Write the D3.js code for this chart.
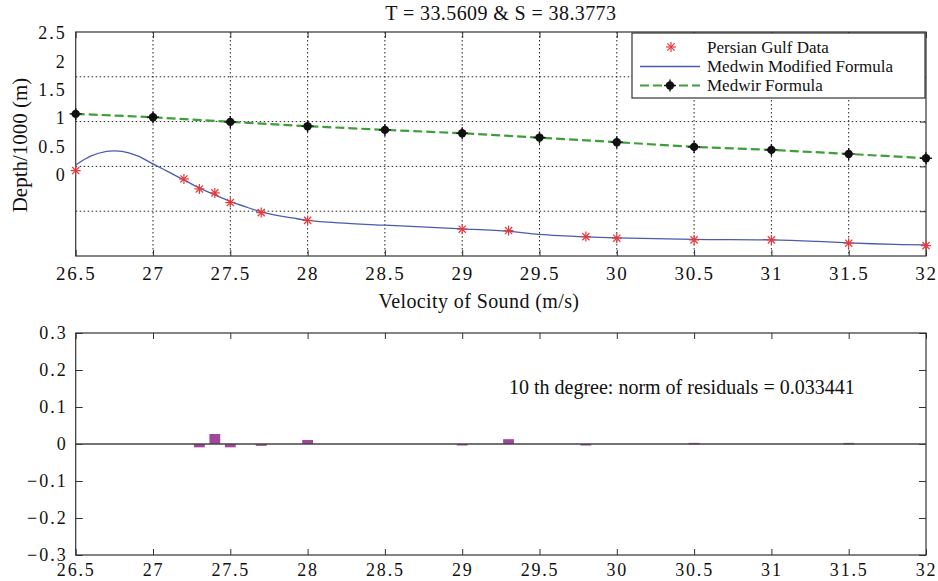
<!DOCTYPE html>
<html>
<head>
<meta charset="utf-8">
<script src="https://cdn.jsdelivr.net/npm/d3@7"></script>
<style>
  html, body { margin: 0; padding: 0; background: #fff; }
  svg { display: block; }
  svg text { font-family: "Liberation Serif", "Tinos", "Times New Roman", Times, "DejaVu Serif", serif !important; fill: #111; }
</style>
</head>
<body>
<svg id="chart" width="938" height="581"></svg>
<script>
// Sound velocity vs. depth, Persian Gulf (upper panel) and fit residuals (lower panel)
const velocityTicks = [26.5, 27, 27.5, 28, 28.5, 29, 29.5, 30, 30.5, 31, 31.5, 32];
const depthTicks = [0, 0.5, 1, 1.5, 2, 2.5];
const residualTicks = [-0.3, -0.2, -0.1, 0, 0.1, 0.2, 0.3];

// Persian Gulf measurements
const obsVelocity = [26.5, 27.2, 27.3, 27.4, 27.5, 27.7, 28, 29, 29.3, 29.8, 30, 30.5, 31, 31.5, 32];
const obsDepth = [0.076, -0.071, -0.247, -0.317, -0.488, -0.665, -0.802, -0.957, -0.982, -1.088, -1.116, -1.146, -1.146, -1.204, -1.247];

// Medwin modified formula (10th degree fit)
const fitVelocity = [26.5, 26.6, 26.7, 26.75, 26.8, 26.9, 27.0, 27.1, 27.2, 27.3, 27.4, 27.5, 27.6, 27.7, 27.8, 27.9, 28.0, 28.2, 28.5, 28.8, 29.0, 29.3, 29.5, 29.8, 30.0, 30.5, 31.0, 31.3, 31.5, 31.8, 32.0];
const fitDepth = [0.176, 0.335, 0.414, 0.423, 0.414, 0.335, 0.194, 0.053, -0.088, -0.229, -0.353, -0.467, -0.564, -0.652, -0.714, -0.758, -0.802, -0.846, -0.887, -0.926, -0.952, -0.996, -1.049, -1.093, -1.111, -1.137, -1.146, -1.173, -1.199, -1.226, -1.234];

// Medwin formula
const medwinVelocity = [26.5, 27, 27.5, 28, 28.5, 29, 29.5, 30, 30.5, 31, 31.5, 32];
const medwinDepth = [1.076, 1.017, 0.935, 0.859, 0.794, 0.735, 0.658, 0.577, 0.494, 0.441, 0.370, 0.294];

// Residuals of the fit
const residVelocity = [27.3, 27.4, 27.5, 27.7, 28, 29, 29.3, 29.8, 30.5, 31.5];
const residValue = [-0.009, 0.027, -0.009, -0.005, 0.011, -0.003, 0.013, -0.004, 0.003, 0.003];

const titleText = "T = 33.5609 & S = 38.3773";
const legendLabels = ["Persian Gulf Data", "Medwin Modified Formula", "Medwir Formula"];
const residNote = "10 th degree: norm of residuals = 0.033441";

const FONT = '"Liberation Serif", Tinos, "Times New Roman", Times, "DejaVu Serif", serif';

const svg = d3.select("#chart").attr("font-family", FONT);
const left = 75.7, right = 926;
const top1 = 32, bottom1 = 256;
const top2 = 333, bottom2 = 555;

const x = d3.scaleLinear().domain([26.5, 32]).range([left, right]);
const yDepth = d3.scaleLinear().domain([-1.43, 2.52]).range([bottom1, top1]);
const yGrid = d3.scaleLinear().domain([0, 5]).range([bottom1, top1]);
const yRes = d3.scaleLinear().domain([-0.3, 0.3]).range([bottom2, top2]);

const axisColor = "#333";
const fmt = d => (d < 0 ? "\u2212" + Math.abs(d) : String(d));

function styleLabels(s, size, spacing) {
  s.attr("font-family", FONT);
  s.selectAll("text")
    .attr("font-size", size).attr("letter-spacing", spacing + "px")
    .attr("font-family", FONT).attr("fill", "#111");
}

// ---------- upper panel ----------
const g1 = svg.append("g");

// vertical grid
g1.append("g").selectAll("line").data(velocityTicks.slice(1, -1)).join("line")
  .attr("x1", d => x(d)).attr("x2", d => x(d))
  .attr("y1", top1).attr("y2", bottom1)
  .attr("stroke", "#222").attr("stroke-width", 1).attr("stroke-dasharray", "1.5,2.5");

// horizontal grid
g1.append("g").selectAll("line").data([1, 2, 3, 4]).join("line")
  .attr("x1", left).attr("x2", right)
  .attr("y1", d => yGrid(d)).attr("y2", d => yGrid(d))
  .attr("stroke", "#222").attr("stroke-width", 1).attr("stroke-dasharray", "1.5,2.5");

// tick marks
g1.append("g").attr("transform", `translate(0,${bottom1})`)
  .call(d3.axisBottom(x).tickValues(velocityTicks).tickSize(-6).tickFormat(""))
  .call(s => s.select(".domain").remove())
  .call(s => s.selectAll("line").attr("stroke", axisColor));
g1.append("g").attr("transform", `translate(0,${top1})`)
  .call(d3.axisTop(x).tickValues(velocityTicks).tickSize(-6).tickFormat(""))
  .call(s => s.select(".domain").remove())
  .call(s => s.selectAll("line").attr("stroke", axisColor));
g1.append("g").attr("transform", `translate(${right},0)`)
  .call(d3.axisRight(yGrid).tickValues([1, 2, 3, 4]).tickSize(-6).tickFormat(""))
  .call(s => s.select(".domain").remove())
  .call(s => s.selectAll("line").attr("stroke", axisColor));

// box
g1.append("rect").attr("x", left).attr("y", top1)
  .attr("width", right - left).attr("height", bottom1 - top1)
  .attr("fill", "none").attr("stroke", axisColor).attr("stroke-width", 1.2);

// x labels
g1.append("g").attr("transform", `translate(0,${bottom1})`)
  .call(d3.axisBottom(x).tickValues(velocityTicks).tickSize(0).tickPadding(0).tickFormat(d => d))
  .call(s => s.select(".domain").remove())
  .call(s => styleLabels(s, 19, 1.8))
  .call(s => s.selectAll("text").attr("y", 24).attr("dy", 0));

// y labels
g1.append("g").attr("transform", `translate(${left},0)`)
  .call(d3.axisLeft(yDepth).tickValues(depthTicks).tickSize(0).tickPadding(9).tickFormat(d => d))
  .call(s => s.select(".domain").remove())
  .call(s => styleLabels(s, 18, 2));

// Medwin formula: green dashed line with black markers
const medwin = medwinVelocity.map((v, i) => [v, medwinDepth[i]]);
const line = d3.line().x(d => x(d[0])).y(d => yDepth(d[1]));
g1.append("path").datum(medwin)
  .attr("d", line)
  .attr("fill", "none").attr("stroke", "#3f9e3a").attr("stroke-width", 2.2)
  .attr("stroke-dasharray", "9,4");

function dotMarker(sel, cx, cy) {
  sel.append("circle").attr("cx", cx).attr("cy", cy).attr("r", 4.2).attr("fill", "#111");
  sel.append("line").attr("x1", cx - 6).attr("x2", cx + 6).attr("y1", cy).attr("y2", cy)
    .attr("stroke", "#111").attr("stroke-width", 1.4);
  sel.append("line").attr("x1", cx).attr("x2", cx).attr("y1", cy - 6).attr("y2", cy + 6)
    .attr("stroke", "#111").attr("stroke-width", 1.4);
}
const gm = g1.append("g");
medwin.forEach(d => dotMarker(gm, x(d[0]), yDepth(d[1])));

// Medwin modified formula: blue fitted curve
const fit = fitVelocity.map((v, i) => [v, fitDepth[i]]);
g1.append("path").datum(fit)
  .attr("d", d3.line().x(d => x(d[0])).y(d => yDepth(d[1])).curve(d3.curveCatmullRom))
  .attr("fill", "none").attr("stroke", "#4a5cae").attr("stroke-width", 1.3);

// Observations: red asterisks
function starMarker(sel, cx, cy, r) {
  const p = sel.append("g").attr("stroke", "#e8383a").attr("stroke-width", 1.2);
  p.append("line").attr("x1", cx - r).attr("x2", cx + r).attr("y1", cy).attr("y2", cy);
  p.append("line").attr("x1", cx).attr("x2", cx).attr("y1", cy - r).attr("y2", cy + r);
  const k = r * 0.72;
  p.append("line").attr("x1", cx - k).attr("x2", cx + k).attr("y1", cy - k).attr("y2", cy + k);
  p.append("line").attr("x1", cx - k).attr("x2", cx + k).attr("y1", cy + k).attr("y2", cy - k);
}
const gs = g1.append("g");
obsVelocity.forEach((v, i) => starMarker(gs, x(v), yDepth(obsDepth[i]), 5));

// legend
const lg = svg.append("g");
lg.append("rect").attr("x", 632).attr("y", 33).attr("width", 293).attr("height", 65)
  .attr("fill", "#fff").attr("stroke", axisColor).attr("stroke-width", 1.2);
const rowY = [47, 66.5, 85.5];
starMarker(lg, 671, rowY[0], 5);
lg.append("line").attr("x1", 640).attr("x2", 700).attr("y1", rowY[1]).attr("y2", rowY[1])
  .attr("stroke", "#4a5cae").attr("stroke-width", 1.3);
lg.append("line").attr("x1", 640).attr("x2", 700).attr("y1", rowY[2]).attr("y2", rowY[2])
  .attr("stroke", "#3f9e3a").attr("stroke-width", 2.2).attr("stroke-dasharray", "9,4");
dotMarker(lg, 670, rowY[2]);
lg.selectAll("text.lab").data(legendLabels).join("text").attr("class", "lab")
  .attr("x", 707).attr("y", (d, i) => rowY[i]).attr("dy", "0.35em")
  .attr("font-family", FONT).attr("font-size", 17).text(d => d);

// title and axis titles
svg.append("text").attr("x", (left + right) / 2).attr("y", 20)
  .attr("text-anchor", "middle").attr("font-family", FONT).attr("font-size", 20).attr("letter-spacing", "0.4px")
  .text(titleText);
svg.append("text").attr("x", 479).attr("y", 308)
  .attr("text-anchor", "middle").attr("font-family", FONT).attr("font-size", 20).attr("letter-spacing", "0.4px")
  .text("Velocity of Sound (m/s)");
svg.append("text").attr("transform", "translate(27,145) rotate(-90)")
  .attr("text-anchor", "middle").attr("font-family", FONT).attr("font-size", 21)
  .text("Depth/1000 (m)");

// ---------- lower panel ----------
const g2 = svg.append("g");

g2.append("g").attr("transform", `translate(0,${bottom2})`)
  .call(d3.axisBottom(x).tickValues(velocityTicks).tickSize(-6).tickFormat(""))
  .call(s => s.select(".domain").remove())
  .call(s => s.selectAll("line").attr("stroke", axisColor));
g2.append("g").attr("transform", `translate(0,${top2})`)
  .call(d3.axisTop(x).tickValues(velocityTicks).tickSize(-6).tickFormat(""))
  .call(s => s.select(".domain").remove())
  .call(s => s.selectAll("line").attr("stroke", axisColor));
g2.append("g").attr("transform", `translate(${left},0)`)
  .call(d3.axisLeft(yRes).tickValues(residualTicks).tickSize(-7).tickFormat(""))
  .call(s => s.select(".domain").remove())
  .call(s => s.selectAll("line").attr("stroke", axisColor));
g2.append("g").attr("transform", `translate(${right},0)`)
  .call(d3.axisRight(yRes).tickValues(residualTicks).tickSize(-7).tickFormat(""))
  .call(s => s.select(".domain").remove())
  .call(s => s.selectAll("line").attr("stroke", axisColor));

g2.append("rect").attr("x", left).attr("y", top2)
  .attr("width", right - left).attr("height", bottom2 - top2)
  .attr("fill", "none").attr("stroke", axisColor).attr("stroke-width", 1.2);

// residual bars
const barW = x(26.57) - x(26.5);
g2.append("g").selectAll("rect").data(residVelocity.map((v, i) => [v, residValue[i]])).join("rect")
  .attr("x", d => x(d[0]) - barW / 2)
  .attr("y", d => yRes(Math.max(0, d[1])))
  .attr("width", barW)
  .attr("height", d => Math.max(1.5, Math.abs(yRes(d[1]) - yRes(0))))
  .attr("fill", "#a0479b");

// zero line
g2.append("line").attr("x1", left).attr("x2", right)
  .attr("y1", yRes(0)).attr("y2", yRes(0))
  .attr("stroke", "#444").attr("stroke-width", 1.6);

// labels
g2.append("g").attr("transform", `translate(0,${bottom2})`)
  .call(d3.axisBottom(x).tickValues(velocityTicks).tickSize(0).tickPadding(0).tickFormat(d => d))
  .call(s => s.select(".domain").remove())
  .call(s => styleLabels(s, 18, 1.8))
  .call(s => s.selectAll("text").attr("y", 21).attr("dy", 0));
g2.append("g").attr("transform", `translate(${left},0)`)
  .call(d3.axisLeft(yRes).tickValues(residualTicks).tickSize(0).tickPadding(8).tickFormat(fmt))
  .call(s => s.select(".domain").remove())
  .call(s => styleLabels(s, 18, 2));

svg.append("text").attr("x", 509).attr("y", 387).attr("dy", "0.35em")
  .attr("font-family", FONT).attr("font-size", 20).text(residNote);
</script>
</body>
</html>
